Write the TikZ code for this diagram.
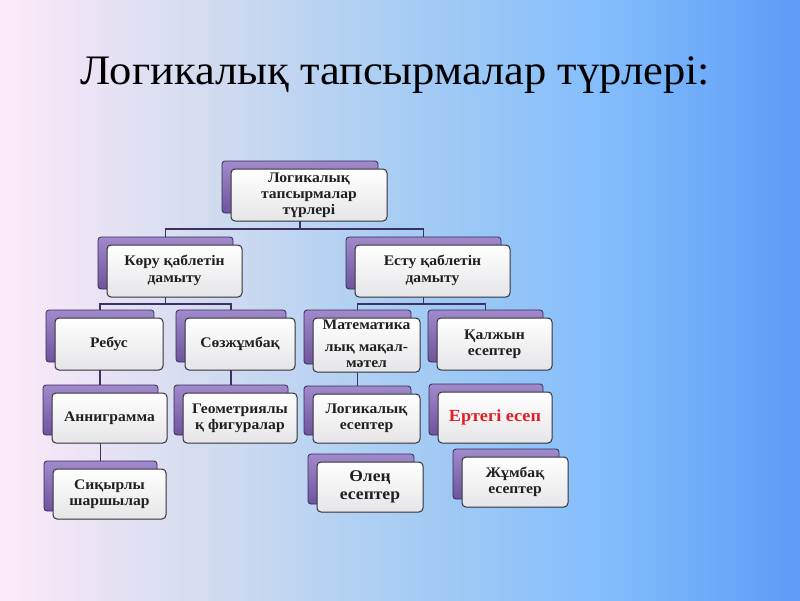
\documentclass[tikz,border=0pt]{standalone}
\usepackage{fontspec}
\setmainfont{Liberation Serif}
\usetikzlibrary{calc}
\pgfdeclarelayer{bg}
\pgfsetlayers{bg,main}
\definecolor{c1}{RGB}{253,234,248}
\definecolor{c2}{RGB}{212,220,240}
\definecolor{c3}{RGB}{168,205,243}
\definecolor{c4}{RGB}{132,190,252}
\definecolor{c5}{RGB}{92,156,246}
\definecolor{bktop}{RGB}{160,138,204}
\definecolor{bkbot}{RGB}{110,84,156}
\definecolor{bkline}{RGB}{55,42,85}
\definecolor{conncol}{RGB}{62,48,98}
\definecolor{frline}{RGB}{50,50,58}
\definecolor{txt}{RGB}{32,32,32}
\definecolor{redtxt}{RGB}{225,30,35}
\pgfdeclarehorizontalshading{bgsh}{100bp}{color(0bp)=(c1); color(25bp)=(c1); color(37.5bp)=(c2); color(50bp)=(c3); color(62.5bp)=(c4); color(75bp)=(c5); color(100bp)=(c5)}
\tikzset{
  backbox/.style={draw=bkline, line width=0.8pt, rounded corners=3pt, top color=bktop, bottom color=bkbot, inner sep=0pt, outer sep=0pt},
  frontbox/.style={draw=frline, line width=1pt, rounded corners=4pt, top color=white, bottom color=white!92!blue!40!gray!30, inner sep=0pt, outer sep=0pt, align=center, font=\bfseries\fontsize{14.6}{16}\selectfont, text=txt},
  conn/.style={draw=conncol, line width=1.8pt}
}
\newcommand\tbx[7][]{%
  \node[backbox, minimum width=#5pt-#3pt, minimum height=#6pt-#4pt] (#2-b) at ({(#3+#5)/2-9},{(#4+#6)/2-8}) {};
  \node[frontbox, minimum width=#5pt-#3pt, minimum height=#6pt-#4pt, #1] (#2) at ({(#3+#5)/2},{(#4+#6)/2}) {\scalebox{1.07}[1]{\begin{tabular}{@{}c@{}}#7\end{tabular}}};
}
\begin{document}
\begin{tikzpicture}[x=1pt,y=-1pt]
\begin{pgfonlayer}{bg}
\shade[shading=bgsh] (0,0) rectangle (800,600);
\end{pgfonlayer}
\useasboundingbox (0,0) rectangle (800,600);
\node[anchor=base, font=\fontsize{42}{48}\selectfont, text=black] (title) at (395.5,84) {\scalebox{1.06}[1]{Логикалық тапсырмалар түрлері:}};

\tbx{top}{231}{169}{387}{221}{Логикалық\\тапсырмалар\\түрлері}
\tbx{koru}{107}{245}{242}{297}{Көру қаблетін\\[1pt]дамыту}
\tbx{estu}{355}{245}{510}{297}{Есту қаблетін\\[1pt]дамыту}
\tbx{rebus}{55}{318}{163}{370}{Ребус}
\tbx{soz}{185}{318}{295}{370}{Сөзжұмбақ}
\tbx{mat}{313}{318}{420}{372}{Математика\\[6pt]лық мақал-\\мәтел}
\tbx{kal}{437}{318}{552}{370}{Қалжын\\есептер}
\tbx{anno}{52}{393}{167}{443}{Анниграмма}
\tbx{geom}{183}{393}{297}{443}{Геометриялы\\қ фигуралар}
\tbx{sik}{53}{469}{166}{519}{Сиқырлы\\шаршылар}
\tbx{logk}{313}{394}{420}{443}{Логикалық\\есептер}
\tbx[text=redtxt, font=\bfseries\fontsize{17}{19}\selectfont]{ert}{438}{392}{552}{443}{Ертегі есеп}
\tbx[font=\bfseries\fontsize{16.4}{18}\selectfont]{olen}{317}{462}{423}{512}{Өлең\\есептер}
\tbx{jum}{462}{457}{568}{507}{Жұмбақ\\есептер}

\begin{pgfonlayer}{bg}
\coordinate (h1) at ($(top-b.south)+(0,16)$);
\draw[conn] (top-b.south) -- (h1) -| (koru-b.north);
\draw[conn] (h1) -| (estu-b.north);
\coordinate (h2) at ($(koru-b.south)+(0,15)$);
\draw[conn] (koru-b.south) -- (h2) -| (rebus-b.north);
\draw[conn] (h2) -| (soz-b.north);
\coordinate (h3) at ($(estu-b.south)+(0,15)$);
\draw[conn] (estu-b.south) -- (h3) -| (mat-b.north);
\draw[conn] (h3) -| (kal-b.north);
\draw[conn] (rebus-b.south) -- (rebus-b.south |- anno-b.north);
\draw[conn] (soz-b.south) -- (soz-b.south |- geom-b.north);
\draw[conn] (anno-b.south) -- (anno-b.south |- sik-b.north);
\draw[conn] (mat-b.south) -- (mat-b.south |- logk-b.north);
\end{pgfonlayer}
\end{tikzpicture}
\end{document}
